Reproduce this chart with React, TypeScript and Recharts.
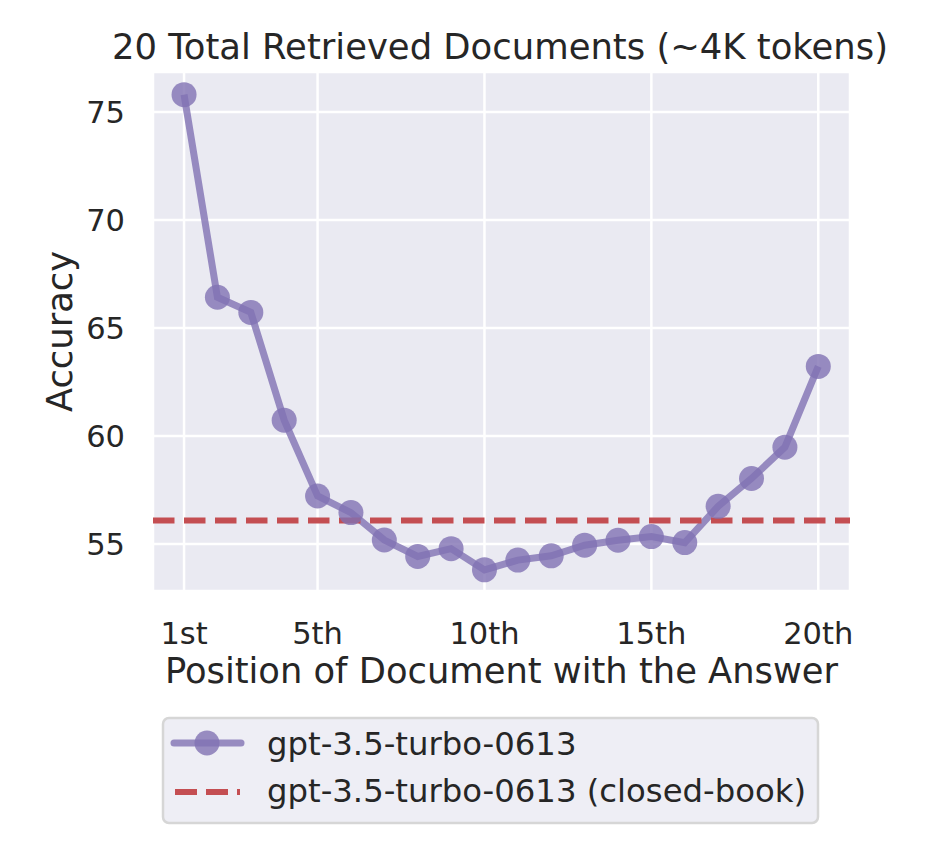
import { LineChart, Line, XAxis, YAxis, CartesianGrid, ReferenceLine } from 'recharts'

const positions = [1, 2, 3, 4, 5, 6, 7, 8, 9, 10, 11, 12, 13, 14, 15, 16, 17, 18, 19, 20]
const accuracy = [75.8, 66.42, 65.72, 60.73, 57.22, 56.45, 55.18, 54.42, 54.78, 53.8, 54.25, 54.45, 54.94, 55.17, 55.34, 55.06, 56.74, 58.03, 59.48, 63.22]
const closedBook = 56.08
const xTicks = [1, 5, 10, 15, 20]
const xTickLabels = ['1st', '5th', '10th', '15th', '20th']
const yTicks = [55, 60, 65, 70, 75]
const seriesNames = ['gpt-3.5-turbo-0613', 'gpt-3.5-turbo-0613 (closed-book)']
const title = '20 Total Retrieved Documents (~4K tokens)'
const xLabel = 'Position of Document with the Answer'
const yLabel = 'Accuracy'

const FONT = '"DejaVu Sans", sans-serif'
const TEXT = '#262626'
const PURPLE = '#8172B3'
const RED = '#C44E52'

const data = positions.map((p, i) => ({ pos: p, acc: accuracy[i] }))

export default function App() {
  return (
    <div style={{ position: 'absolute', left: 0, top: 0, width: 950, height: 860, background: '#fff', fontFamily: FONT }}>
      <LineChart width={950} height={860} data={data} margin={{ top: 72, right: 100, bottom: 0, left: 0 }}>
        <CartesianGrid stroke="#fff" strokeWidth={2.5} fill="#EAEAF2" fillOpacity={1} />
        <XAxis
          dataKey="pos"
          type="number"
          domain={[0.07, 20.95]}
          ticks={xTicks}
          allowDataOverflow
          height={269}
          axisLine={false}
          tickLine={false}
          tickSize={0}
          tickMargin={31}
          tickFormatter={(v) => xTickLabels[xTicks.indexOf(v)]}
          tick={{ fontSize: 30.5, fill: TEXT, fontFamily: FONT }}
          label={{
            content: ({ viewBox }: any) => (
              <text x={viewBox.x + viewBox.width / 2} y={viewBox.y + 92} textAnchor="middle" fontSize={35.3} fill={TEXT} fontFamily={FONT}>
                {xLabel}
              </text>
            ),
          }}
        />
        <YAxis
          type="number"
          domain={[52.82, 76.85]}
          ticks={yTicks}
          allowDataOverflow
          width={153}
          axisLine={false}
          tickLine={false}
          tickSize={0}
          tickMargin={28}
          tick={{ fontSize: 30.5, fill: TEXT, fontFamily: FONT }}
          label={{
            content: ({ viewBox }: any) => {
              const cy = viewBox.y + viewBox.height / 2
              return (
                <text transform={`translate(72,${cy}) rotate(-90)`} textAnchor="middle" fontSize={35.3} fill={TEXT} fontFamily={FONT}>
                  {yLabel}
                </text>
              )
            },
          }}
        />
        <Line
          dataKey="acc"
          name={seriesNames[0]}
          stroke={PURPLE}
          strokeOpacity={0.8}
          strokeWidth={7}
          dot={{ r: 12.5, fill: PURPLE, fillOpacity: 0.8, stroke: 'none' }}
          activeDot={false}
          isAnimationActive={false}
        />
        <ReferenceLine y={closedBook} stroke={RED} strokeWidth={6} strokeDasharray="21.5 9.5" />
      </LineChart>

      <svg width={950} height={860} style={{ position: 'absolute', left: 0, top: 0, pointerEvents: 'none' }}>
        <text x={500} y={59} textAnchor="middle" fontSize={35.4} fill={TEXT} fontFamily={FONT}>
          {title}
        </text>
        <rect x={163} y={718} width={655} height={105} rx={6} fill="#EEEEF5" stroke="#D6D6D6" strokeWidth={2.5} />
        <line x1={174} y1={743} x2={241} y2={743} stroke={PURPLE} strokeOpacity={0.8} strokeWidth={7} strokeLinecap="round" />
        <circle cx={207} cy={743} r={12.5} fill={PURPLE} fillOpacity={0.8} />
        <text x={267} y={755} fontSize={32.3} fill={TEXT} fontFamily={FONT}>
          {seriesNames[0]}
        </text>
        <line x1={175} y1={792} x2={240} y2={792} stroke={RED} strokeWidth={6} strokeDasharray="22 9" />
        <text x={267} y={802} fontSize={32.3} fill={TEXT} fontFamily={FONT}>
          {seriesNames[1]}
        </text>
      </svg>
    </div>
  )
}
